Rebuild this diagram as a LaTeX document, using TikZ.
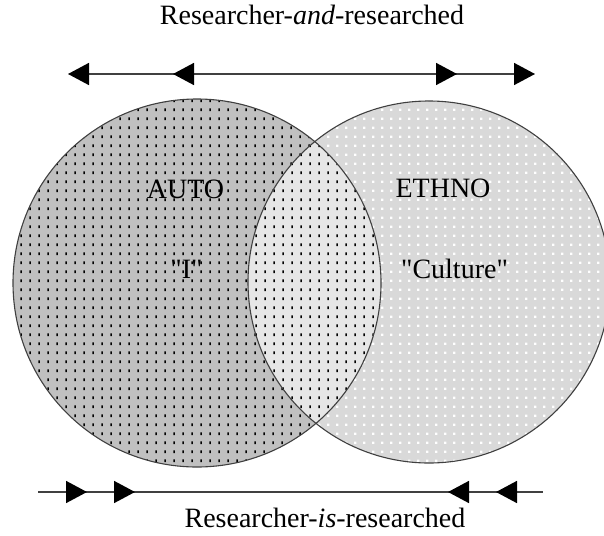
\documentclass[tikz,border=0pt]{standalone}
\usepackage{fontspec}
\setmainfont{Liberation Serif}
\usetikzlibrary{patterns,arrows.meta}
\pgfdeclarepatternformonly{blackdots}{\pgfpointorigin}{\pgfpoint{8.7pt}{8.8pt}}{\pgfpoint{8.7pt}{8.8pt}}{\pgfpathrectangle{\pgfpoint{3.5pt}{3pt}}{\pgfpoint{1.6pt}{2.8pt}}\pgfusepath{fill}}
\pgfdeclarepatternformonly{whitedots}{\pgfpointorigin}{\pgfpoint{8.7pt}{8.8pt}}{\pgfpoint{8.7pt}{8.8pt}}{\pgfpathrectangle{\pgfpoint{3.3pt}{3.2pt}}{\pgfpoint{2.2pt}{2.4pt}}\pgfusepath{fill}}
\definecolor{autofill}{HTML}{C0C0C0}
\definecolor{ethnofill}{HTML}{D9D9D9}
\definecolor{lensfill}{HTML}{E6E6E6}
\definecolor{linegray}{HTML}{404040}
\begin{document}
\begin{tikzpicture}[x=1pt,y=-1pt,
  lbl/.style={font=\fontsize{28}{32}\selectfont, inner sep=0pt, anchor=base, text=black},
  setcircle/.style={circle, inner sep=0pt, minimum size=#1, draw=linegray, line width=1.1pt},
  axis/.style={draw=linegray, line width=1.6pt},
  tri/.tip={Triangle[length=21pt,width=22pt,color=black]}]
\useasboundingbox (0,0) rectangle (604,535);
% centres
\coordinate (ca) at (197,283);
\coordinate (ce) at (429,282);
% fills
\fill[autofill] (ca) circle[radius=184pt];
\path[pattern=blackdots, pattern color=black] (ca) circle[radius=184pt];
\fill[ethnofill] (ce) circle[radius=181pt];
\path[pattern=whitedots, pattern color=white] (ce) circle[radius=181pt];
\begin{scope}
  \clip (ca) circle[radius=184pt];
  \fill[lensfill] (ce) circle[radius=181pt];
  \path[pattern=blackdots, pattern color=black] (ce) circle[radius=181pt];
\end{scope}
% outlines
\node[setcircle=368pt] (auto) at (ca) {};
\node[setcircle=362pt] (ethno) at (ce) {};
% labels
\node[lbl] (toplbl) at (312,25) {Researcher-\textit{and}-researched};
\node[lbl] (botlbl) at (325,527) {Researcher-\textit{is}-researched};
\node[lbl] (autolbl) at (185.5,198) {AUTO};
\node[lbl] (ilbl) at (186.5,278) {\textquotedbl I\textquotedbl};
\node[lbl] (ethnolbl) at (443,197) {ETHNO};
\node[lbl] (culturelbl) at (454.5,278) {\textquotedbl Culture\textquotedbl};
% top arrows
\coordinate (t1) at (68,74);
\coordinate (t2) at (173,74);
\coordinate (t3) at (457,74);
\coordinate (t4) at (535,74);
\draw[axis, tri-tri] (t1) -- (t4);
\draw[axis, tri-tri] (t2) -- (t3);
% bottom arrows
\coordinate (b0) at (38,492);
\coordinate (b1) at (87,492);
\coordinate (b2) at (135,492);
\coordinate (b3) at (448,492);
\coordinate (b4) at (496,492);
\coordinate (b5) at (543,492);
\draw[axis] (b0) -- (b5);
\draw[axis, -tri] (b0) -- (b1);
\draw[axis, -tri] (b1) -- (b2);
\draw[axis, tri-] (b3) -- (b4);
\draw[axis, tri-] (b4) -- (b5);
\end{tikzpicture}
\end{document}
